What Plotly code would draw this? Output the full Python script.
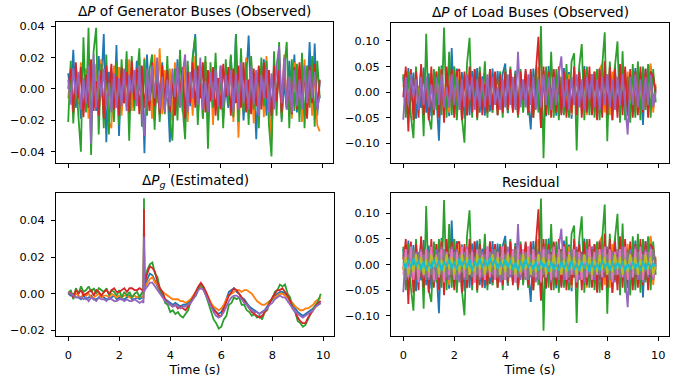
import plotly.graph_objects as go

# ---------------- data ----------------
t = [round(0.1 * i, 1) for i in range(100)]

gen_blue = [.010, -.004, .025, -.012, .006, -.019, .003, -.008, .016, -.022,
            .009, -.014, .021, .002, .035, -.034, .011, -.006, -.017, .028,
            -.030, .013, -.003, .019, -.015, .007, -.011, .018, -.001, .014,
            -.041, .022, -.009, .005, -.020, .012, -.004, .017, -.013, .003,
            -.034, .008, -.016, .019, -.007, .013, -.021, .004, -.011, .020,
            .035, -.018, .009, -.005, .017, -.023, .010, -.014, .006, -.009,
            .015, -.019, .002, -.012, .021, -.006, .035, -.016, .011, -.020,
            .005, .034, -.012, .008, -.032, .014, -.003, .019, -.017, .009,
            -.021, .012, -.006, .016, -.019, .004, -.013, .018, -.008, .022,
            -.015, .006, -.018, .013, -.010, .030, -.012, .029, -.017, .005]
gen_orange = [-.006, .011, -.016, .004, -.010, .017, -.003, .013, -.019, .007,
              -.012, .016, -.005, .019, -.013, .009, -.021, -.025, .015, -.008,
              .014, -.017, .006, -.011, .019, -.014, .010, -.004, .012, -.018,
              .020, -.013, .007, -.019, .022, -.009, .026, -.016, .012, -.006,
              .013, -.020, .017, -.009, .004, -.015, .019, -.021, .010, -.017,
              .021, -.011, .015, -.019, .018, -.006, .011, -.023, .017, -.012,
              .008, -.017, .013, -.007, .019, -.021, .016, -.031, .009, -.013,
              .020, -.008, .017, -.022, .012, -.005, .010, -.018, .021, -.011,
              -.032, .015, -.009, .019, -.017, .022, -.012, .007, -.019, .017,
              -.010, .015, -.021, .019, -.013, .008, -.017, .014, -.023, -.027]
gen_green = [-.021, .018, -.022, .012, -.017, -.040, .033, -.015, .039, -.042,
             .024, .039, -.029, .016, -.025, .022, -.029, .011, -.021, .017,
             -.023, .019, -.009, .024, -.033, .021, -.014, .008, .026, -.024,
             .019, -.017, .012, .022, -.026, .015, -.021, .009, -.016, .021,
             -.019, -.033, .013, -.020, .025, -.011, -.032, .018, -.008, .020,
             .033, -.023, .014, -.019, .021, -.038, .017, -.012, .023, -.020,
             .014, -.025, .019, -.010, .022, -.018, .035, -.021, .026, -.015,
             .017, -.023, .021, -.013, .010, -.025, .020, -.011, .018, -.023,
             -.043, .024, -.017, .030, -.021, .013, .030, -.025, .019, -.014,
             .016, -.021, .023, -.025, .015, -.012, .021, -.024, .018, -.006]
gen_red = [.000, .013, -.015, .017, -.006, .014, -.018, .009, -.012, .019,
           -.014, .005, -.017, .012, -.019, .015, -.004, .016, -.013, .008,
           -.017, .014, -.009, .011, -.015, .018, -.007, .013, -.016, .015,
           -.012, .006, -.014, .017, -.011, .004, -.016, .015, -.008, .012,
           -.015, .009, -.017, .013, -.005, .014, -.019, .011, -.009, .017,
           -.012, .015, -.006, .017, -.015, .012, -.008, .014, -.017, .007,
           -.013, .016, -.005, .014, -.017, .013, -.009, .015, -.012, .017,
           -.015, .006, -.016, .013, -.011, .015, -.013, .017, -.006, .012,
           -.017, .015, -.008, .012, -.015, .017, -.012, .004, -.016, .014,
           -.013, .017, -.007, .012, -.019, .015, -.009, .016, -.013, .006]
gen_purple = [.006, -.010, .013, -.004, .011, -.013, .007, -.009, .015, -.035,
              .022, -.012, .009, -.005, .013, -.011, .004, -.015, .010, -.012,
              .007, -.011, .013, -.014, .009, -.003, .012, -.011, .015, -.013,
              -.030, .013, -.008, .015, -.006, .020, -.013, .008, -.015, .006,
              -.011, .013, -.005, .015, -.012, .009, .022, -.015, .011, -.006,
              .013, -.010, .020, -.013, .005, -.015, .011, -.007, .013, -.011,
              .015, -.012, .009, -.004, .012, -.015, .010, -.013, .017, -.009,
              .006, -.013, .015, -.010, .012, -.017, .009, -.006, .013, -.015,
              .010, -.013, .015, .027, -.009, .020, -.013, .008, -.015, .012,
              -.011, .006, -.013, .015, -.009, .012, -.006, .011, -.013, -.004]

load_blue = [.030, -.042, .047, -.018, .038, -.052, .012, -.031, .048, -.040,
             .037, -.047, .021, -.008, -.095, .052, -.036, .029, -.047, .086,
             -.043, .046, -.016, .039, -.052, .023, -.045, .041, -.012, .047,
             -.040, .031, -.046, .014, -.038, .046, -.020, .041, -.027, .036,
             .056, -.041, .015, -.036, .042, -.046, .008, -.031, .041, -.025,
             -.073, .046, -.018, .032, -.070, .041, -.047, .051, -.019, .042,
             -.046, .021, -.041, .047, -.014, .039, -.052, .033, -.029, .046,
             -.032, .051, -.041, .026, -.029, .038, -.052, .047, -.018, .031,
             -.047, .042, -.013, .052, -.039, .046, -.021, .038, -.046, .013,
             -.041, .047, -.022, .039, -.064, .046, -.038, .051, -.023, .010]
load_orange = [.010, .040, -.025, .030, -.042, .035, -.012, .045, -.035, .020,
               -.041, .035, -.018, .040, -.035, .047, -.022, .035, -.040, .015,
               .050, -.035, .040, -.010, .035, -.046, .040, -.020, .035, -.040,
               .030, -.025, .040, -.030, .015, -.040, .030, -.035, .040, -.018,
               .035, -.030, .040, -.035, .012, -.040, .035, -.030, .035, -.045,
               .030, -.040, .022, .050, -.030, .040, -.035, .018, -.040, .035,
               -.030, .040, -.015, .030, -.040, .035, -.045, .020, -.040, .035,
               -.030, .040, -.045, .035, -.012, .040, -.035, .045, .055, -.040,
               .035, -.045, .040, -.020, .030, -.040, .045, -.035, .040, -.015,
               .035, -.040, .045, -.035, .020, -.030, .035, .056, -.040, .015]
load_green = [.035, -.050, .040, -.045, -.090, .050, -.030, .045, -.086, .114,
              -.050, -.073, .045, -.035, .050, -.045, .126, -.050, .079, -.045,
              .050, -.055, .025, -.050, -.099, .055, .106, -.050, .045, -.055,
              .050, -.025, .060, -.050, .045, -.040, .030, -.045, .040, -.050,
              .045, -.040, .050, -.025, .040, -.050, .045, -.040, .020, -.045,
              .040, -.050, .045, -.040, .129, -.129, .050, -.045, .079, -.050,
              .045, -.055, .030, -.045, .055, -.050, .060, .076, -.114, .050,
              .094, -.055, .050, -.045, .035, -.050, .045, -.055, .050, .117,
              -.096, .060, -.055, .050, .099, -.060, .080, -.055, .030, -.060,
              .055, -.050, .060, -.055, .050, -.035, .055, -.050, .045, -.020]
load_red = [-.010, .050, -.077, .045, -.055, .040, -.050, .055, -.045, .020,
            -.055, .050, -.045, .040, -.050, .045, -.060, .050, -.020, .045,
            -.050, .040, .045, -.055, .040, -.045, .050, -.040, .045, -.050,
            .040, -.045, .015, -.040, .045, -.035, .040, -.045, .035, -.040,
            .040, -.035, .045, -.040, .035, -.045, .040, -.015, .045, -.040,
            .045, -.050, .040, .108, -.070, .050, -.045, .040, -.050, .045,
            -.040, .050, -.045, .040, -.050, .025, -.040, .050, -.045, .040,
            -.050, .045, -.040, .050, -.045, .040, -.055, .045, -.050, .060,
            -.045, .050, -.055, .045, -.050, .055, -.045, .050, -.040, .045,
            -.050, .040, -.045, .050, -.040, .045, -.050, .040, .030, .000]
load_purple = [-.054, .030, -.025, .035, -.010, .025, -.035, .030, -.025, .030,
               -.030, .015, -.035, .030, -.025, .035, -.030, .010, -.030, .035,
               -.025, .030, -.035, .025, -.030, .035, -.015, .030, -.035, .025,
               -.030, .025, -.030, .035, -.025, .030, -.025, .010, -.035, .025,
               -.030, .035, -.025, .030, -.035, .079, -.030, .025, -.030, .035,
               -.025, .030, -.035, .025, -.030, .035, -.025, .030, -.035, .030,
               -.025, .035, .070, -.030, .025, -.035, .030, -.025, .035, -.030,
               .025, -.035, .030, -.015, .035, -.030, .025, -.035, .030, -.025,
               .035, -.030, .025, -.035, .030, -.025, .035, -.030, -.083, .030,
               -.025, .035, -.030, .025, -.035, .030, -.025, .035, -.030, .000]

res_brown = [.020, -.025, .030, -.010, .025, -.030, .020, -.025, .030, -.020,
             .025, -.030, .010, -.025, .030, -.020, .025, -.030, .020, -.025,
             .030, -.020, .025, -.030, .020, -.025, .030, -.010, .025, -.030,
             .020, -.025, .030, -.020, .025, -.030, .020, -.025, .030, -.020,
             .025, -.030, .020, -.025, .030, -.020, .025, -.030, .020, -.025,
             .030, -.020, .025, -.030, .020, -.025, .030, -.020, .025, -.030,
             .020, -.025, .030, -.020, .025, -.030, .020, -.025, .030, -.020,
             .025, -.030, .020, -.025, .030, -.020, .025, -.030, .020, -.025,
             .030, -.020, .025, -.030, .020, -.025, .030, -.020, .025, -.030,
             .020, -.025, .030, -.020, .025, -.030, .020, -.025, .030, -.010]
res_pink = [-.020, .030, -.025, .035, -.030, .020, -.035, .025, -.020, .030,
            -.025, .035, -.030, .020, -.025, .030, -.035, .025, -.020, .030,
            -.030, .025, -.020, .035, -.025, .030, -.020, .025, -.035, .030,
            -.025, .020, -.030, .035, -.025, .020, -.030, .025, -.020, .035,
            -.030, .025, -.020, .030, -.035, .025, -.020, .030, -.025, .035,
            -.020, .030, -.025, .020, -.035, .030, -.025, .020, -.030, .035,
            -.025, .030, -.020, .035, -.030, .025, -.020, .030, -.035, .025,
            -.030, .020, -.025, .035, -.030, .025, -.020, .030, -.025, .035,
            -.020, .030, -.035, .025, -.020, .030, -.025, .035, -.030, .020,
            -.025, .030, -.020, .035, -.030, .025, -.020, .030, -.025, .005]
res_gray = [.015, -.030, .020, -.025, .030, -.010, .025, -.015, .020, -.030,
            .025, -.020, .015, -.030, .025, -.020, .030, -.025, .015, -.020,
            .025, -.030, .020, -.015, .025, -.030, .020, -.025, .015, -.020,
            .030, -.025, .020, -.015, .025, -.020, .030, -.025, .015, -.030,
            .020, -.025, .015, -.020, .030, -.025, .020, -.015, .025, -.030,
            .020, -.025, .015, -.030, .025, -.020, .030, -.015, .020, -.025,
            .015, -.030, .025, -.020, .015, -.025, .030, -.020, .025, -.015,
            .020, -.030, .025, -.020, .015, -.025, .030, -.020, .025, -.015,
            .020, -.030, .025, -.020, .015, -.025, .030, -.020, .025, -.030,
            .015, -.020, .025, -.030, .020, -.015, .025, -.020, .030, -.005]
res_olive = [-.010, .015, -.020, .006, -.015, .020, -.010, .015, -.020, .010,
             -.015, .020, -.004, .015, -.020, .010, -.015, .020, -.010, .015,
             -.020, .010, -.015, .020, -.010, .015, -.020, .003, -.015, .020,
             -.010, .015, -.020, .010, -.015, .020, -.010, .015, -.020, .010,
             -.015, .020, -.010, .015, -.020, .010, -.015, .020, -.010, .015,
             -.020, .010, -.015, .020, -.010, .015, -.020, .010, -.015, .020,
             -.010, .015, -.020, .010, -.015, .020, -.010, .015, -.020, .010,
             -.015, .020, -.010, .015, -.020, .010, -.015, .020, -.010, .015,
             -.020, .010, -.015, .020, -.010, .015, -.020, .010, -.015, .020,
             -.010, .015, -.020, .010, -.015, .020, -.010, .015, -.020, .000]
res_cyan = [.005, -.008, .010, -.006, .012, -.004, .008, -.010, .006, -.012,
            .004, -.008, .010, -.006, .008, -.012, .006, -.004, .010, -.008,
            .006, -.010, .012, -.004, .008, -.006, .010, -.012, .006, -.004,
            .012, -.006, .010, -.004, .014, -.002, .010, -.008, .006, -.004,
            .010, -.006, .008, -.010, .004, -.012, .006, -.008, .010, -.006,
            .004, -.010, .006, -.012, .008, -.006, .004, -.014, .006, -.010,
            .002, -.012, .006, -.008, .004, -.012, .008, -.010, .002, -.012,
            .006, -.008, .004, -.014, .006, -.010, .002, -.012, .008, -.006,
            .004, -.012, .006, -.010, .004, -.008, .006, -.012, .002, -.010,
            .006, -.008, .004, -.012, .006, -.010, .004, -.008, .002, -.004]

est_t = t[:30] + [2.95, 2.97, 2.99] + t[30:]
est_blue = [.000, -.001, .000, -.002, -.002, -.003, -.001, -.003, -.002, -.001,
            -.003, -.003, -.002, -.001, -.002, -.003, -.003, -.002, -.001, -.003,
            -.002, -.003, -.003, -.002, -.001, -.003, -.003, -.002, -.003, -.002,
            -.002, .035, .003,
            .004, .008, .011, .010, .007, .004, .001, -.001, -.003, -.004,
            -.005, -.006, -.005, -.006, -.007, -.006, -.006, -.005, -.004, -.002,
            .001, .003, .004, .003, .000, -.003, -.006, -.008, -.010, -.011,
            -.010, -.007, -.003, .001, .002, .003, .001, .000, -.002, -.003,
            -.005, -.007, -.008, -.009, -.010, -.011, -.010, -.009, -.007, -.005,
            -.003, -.001, .000, .001, .001, .000, -.002, -.004, -.006, -.008,
            -.010, -.011, -.012, -.011, -.010, -.009, -.008, -.007, -.006, -.005]
est_orange = [.000, .001, -.001, .000, -.001, -.002, .000, -.001, .000, -.002,
              -.002, -.001, .000, -.002, -.001, -.001, -.002, .000, -.001, -.002,
              -.001, -.002, -.001, -.001, -.002, -.002, -.001, -.002, -.001, -.002,
              -.002, .030, .002,
              .003, .006, .008, .009, .006, .005, .002, .001, .000, -.001,
              -.002, -.003, -.003, -.003, -.004, -.004, -.005, -.004, -.003, -.001,
              .001, .003, .004, .003, .001, -.002, -.005, -.007, -.008, -.009,
              -.008, -.006, -.003, -.001, .000, .001, .002, .002, .001, .002,
              .002, .001, .000, -.002, -.004, -.005, -.006, -.006, -.005, -.004,
              -.003, -.002, -.001, .000, .000, -.001, -.002, -.004, -.005, -.007,
              -.008, -.009, -.009, -.008, -.008, -.007, -.006, -.004, -.003, -.002]
est_green = [.000, .002, -.003, .003, .000, .004, .001, .002, .004, .001,
             .003, .000, .003, .002, .001, .003, -.001, .002, .001, -.001,
             .002, -.002, .001, -.001, .001, -.002, .000, .001, -.002, .001,
             .000, .052, .004,
             .006, .013, .016, .017, .011, .009, .002, .000, -.005, -.006,
             -.010, -.009, -.011, -.010, -.012, -.013, -.011, -.009, -.004, -.002,
             -.001, .003, .005, .003, -.001, -.005, -.010, -.014, -.016, -.019,
             -.018, -.014, -.012, -.006, -.005, -.002, -.003, -.002, -.006, -.006,
             -.009, -.010, -.012, -.011, -.013, -.012, -.014, -.010, -.009, -.004,
             -.003, .001, .002, .005, .004, .005, .000, -.002, -.008, -.010,
             -.015, -.016, -.018, -.017, -.014, -.011, -.008, -.006, -.004, .000]
est_red = [.001, .000, -.002, .002, .000, .002, -.001, .000, .001, .002,
           -.001, .002, .001, -.001, .001, .002, .000, .002, .003, .001,
           .001, .002, .003, .001, .003, .003, .002, .002, .003, .002,
           .001, .046, .004,
           .006, .011, .015, .014, .012, .006, .003, .001, -.003, -.005,
           -.006, -.007, -.006, -.008, -.007, -.008, -.009, -.007, -.005, -.002,
           .001, .004, .006, .004, .001, -.003, -.006, -.009, -.010, -.012,
           -.012, -.008, -.004, -.001, .001, .003, .002, .000, -.002, -.004,
           -.006, -.008, -.010, -.011, -.012, -.013, -.012, -.010, -.008, -.005,
           -.002, .000, .002, .002, .003, .001, -.001, -.004, -.008, -.010,
           -.013, -.015, -.016, -.016, -.013, -.011, -.009, -.007, -.005, -.004]
est_purple = [.001, .000, -.001, -.002, -.002, -.002, -.003, -.002, -.004, -.002,
              -.003, -.004, -.002, -.003, -.003, -.004, -.002, -.003, -.004, -.004,
              -.003, -.003, -.004, -.003, -.004, -.004, -.003, -.004, -.005, -.004,
              -.005, .031, .001,
              .002, .004, .006, .006, .004, .002, .000, -.002, -.004, -.005,
              -.006, -.007, -.006, -.007, -.008, -.007, -.007, -.006, -.005, -.003,
              -.001, .002, .003, .002, -.001, -.004, -.007, -.010, -.012, -.013,
              -.012, -.010, -.007, -.004, -.002, -.001, -.001, -.002, -.003, -.005,
              -.006, -.008, -.009, -.010, -.010, -.011, -.010, -.009, -.008, -.006,
              -.005, -.003, -.002, -.001, -.002, -.002, -.004, -.006, -.008, -.010,
              -.011, -.012, -.013, -.012, -.011, -.010, -.009, -.007, -.006, -.005]

titles = ["Δ<i>P</i> of Generator Buses (Observed)", "Δ<i>P</i> of Load Buses (Observed)",
          "Δ<i>P</i><sub><i>g</i></sub> (Estimated)", "Residual"]
x_ticks = [0, 2, 4, 6, 8, 10]
y_ticks_gen = [-0.04, -0.02, 0.0, 0.02, 0.04]
y_ticks_load = [-0.10, -0.05, 0.0, 0.05, 0.10]
y_ticks_est = [-0.02, 0.0, 0.02, 0.04]

C = ["#1f77b4", "#ff7f0e", "#2ca02c", "#d62728", "#9467bd",
     "#8c564b", "#e377c2", "#7f7f7f", "#bcbd22", "#17becf"]

# ---------------- figure ----------------
W, H = 686, 380
fig = go.Figure()

def add(xs, ys, color, ax):
    fig.add_trace(go.Scatter(x=xs, y=ys, mode="lines", line=dict(color=color, width=1.8),
                             xaxis="x" + ax, yaxis="y" + ax, showlegend=False,
                             hoverinfo="skip"))

for ys, c in zip([gen_blue, gen_orange, gen_green, gen_red, gen_purple], C):
    add(t, ys, c, "")
for ys, c in zip([load_blue, load_orange, load_green, load_red, load_purple], C):
    add(t, ys, c, "2")
for ys, c in zip([est_blue, est_orange, est_green, est_red, est_purple], C):
    add(est_t, ys, c, "3")
res = [load_blue, load_orange, load_green, load_red, load_purple,
       res_brown, res_pink, res_gray, res_olive, res_cyan]
for ys, c in zip(res, C):
    add(t, ys, c, "4")

def fmt(v):
    s = f"{abs(v):.2f}"
    return ("\u2212" + s) if v < 0 else s

px = lambda a, b: [a / W, b / W]
py = lambda top, bot: [1 - bot / H, 1 - top / H]

font = dict(family="DejaVu Sans", size=11.3, color="#000")
label_font = dict(family="DejaVu Sans", size=12.5, color="#000")
axis_common = dict(showline=True, mirror=True, linecolor="#000", linewidth=1,
                   ticks="outside", ticklen=4, tickwidth=1, tickcolor="#000",
                   showgrid=False, zeroline=False, tickfont=font, ticklabelstandoff=4)

dom = {
    "": (px(56, 333), py(20, 162)),
    "2": (px(391, 669), py(21, 162)),
    "3": (px(56, 334), py(193, 337)),
    "4": (px(391, 669), py(193, 337)),
}
yr = {"": [-0.047, 0.0428], "2": [-0.138, 0.1354], "3": [-0.0232, 0.0546], "4": [-0.140, 0.1387]}
yt = {"": y_ticks_gen, "2": y_ticks_load, "3": y_ticks_est, "4": y_ticks_load}

layout = dict(width=W, height=H, margin=dict(l=0, r=0, t=0, b=0),
              paper_bgcolor="white", plot_bgcolor="white", showlegend=False,
              font=font)
for k in ["", "2", "3", "4"]:
    xd, ydm = dom[k]
    bottom = k in ("3", "4")
    xa = dict(axis_common, domain=xd, range=[-0.48, 10.42], anchor="y" + k,
              tickvals=x_ticks, showticklabels=bottom)
    if bottom:
        xa["ticktext"] = [str(v) for v in x_ticks]
        xa["title"] = dict(text="Time (s)", font=label_font, standoff=2)
    ya = dict(axis_common, domain=ydm, range=yr[k], anchor="x" + k,
              tickvals=yt[k], ticktext=[fmt(v) for v in yt[k]])
    layout["xaxis" + k] = xa
    layout["yaxis" + k] = ya

ann = []
for k, title in zip(["", "2", "3", "4"], titles):
    xd, ydm = dom[k]
    ann.append(dict(text=title, x=(xd[0] + xd[1]) / 2, y=ydm[1], xref="paper", yref="paper",
                    xanchor="center", yanchor="bottom", yshift=1, showarrow=False,
                    font=dict(family="DejaVu Sans", size=13.6, color="#000")))
layout["annotations"] = ann
fig.update_layout(**layout)
fig.write_html("out.html")
